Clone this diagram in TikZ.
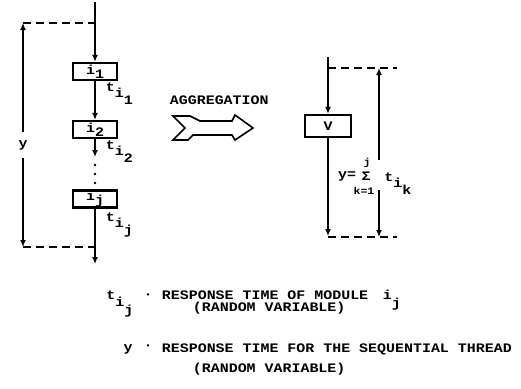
\documentclass[tikz,border=0pt]{standalone}
\usepackage{fontspec}
\usetikzlibrary{arrows.meta, positioning}
\newfontfamily\typew[FakeStretch=1.15]{Liberation Mono}
% t with stepped subscripts i and #1
\newcommand{\tsub}[1]{t\raisebox{-6pt}{i\raisebox{-7pt}{#1}}}
% i with a lowered index
\newcommand{\isub}[2][4pt]{i\raisebox{-#1}{#2}}

\begin{document}
\begin{tikzpicture}[x=1pt, y=-1pt, line width=1.8pt,
  font=\typew\bfseries\fontsize{13}{15}\selectfont,
  flow/.style={-{Latex[length=7pt,width=6pt]}},
  dashln/.style={dash pattern=on 8pt off 5pt, line width=2.2pt},
  modbox/.style={draw, line width=2.3pt, minimum width=44pt, minimum height=17pt, inner sep=0pt},
  lbl/.style={anchor=base west, inner sep=0pt}]
  \useasboundingbox (0,0) rectangle (521,388);

  % ---------- sequential thread of modules ----------
  \coordinate (in) at (95,2);
  \node[modbox] (m1) at (95,71.5) {\isub{1}};
  \node[modbox] (m2) at (95,129.5) {\isub{2}};
  \node[modbox] (mj) at (95,199) {\isub{j}};
  \coordinate (c2) at (95,157);
  \coordinate (out) at (95,264);
  \draw[flow] (in) -- (m1);
  \draw[flow] (m1) -- (m2);
  \draw[flow] (m2) -- (c2);
  \draw[flow] (mj) -- (out);
  \foreach \y in {165,174,183}{
    \fill (95,\y) circle (1.3pt);
  }
  \node[lbl] (t1) at (105,91) {\tsub{1}};
  \node[lbl] (t2) at (105,149) {\tsub{2}};
  \node[lbl] (tj) at (105,221) {\tsub{j}};

  % ---------- total time y (left) ----------
  \coordinate (yt) at (23,23);
  \coordinate (yb) at (23,247);
  \coordinate (jt) at (95,23);
  \coordinate (jb) at (95,247);
  \draw[dashln] (yt) -- (jt);
  \draw[dashln] (yb) -- (jb);
  \node[minimum height=24pt, inner sep=0pt] (ylab) at (23,145) {y};
  \draw[flow] (ylab) -- (yt);
  \draw[flow] (ylab) -- (yb);

  % ---------- aggregation arrow ----------
  \node[lbl] (agg) at (169,104) {AGGREGATION};
  \draw[line width=1.6pt, line join=miter]
    (173,116) -- (190,116) -- (200,121) -- (232,121) -- (235,115) -- (253,128)
    -- (235,140) -- (232,135) -- (193,135) -- (188,140) -- (173,140) -- (185,128) -- cycle;

  % ---------- aggregated module V (right) ----------
  \coordinate (rin) at (328,57);
  \node[modbox, minimum width=46pt, minimum height=22pt] (v) at (328,126) {V};
  \coordinate (rout) at (328,236);
  \draw[flow] (rin) -- (v);
  \draw[flow] (v) -- (rout);
  \coordinate (rjt) at (328,68);
  \coordinate (rjb) at (328,237);
  \coordinate (re1) at (397,68);
  \coordinate (re2) at (397,237);
  \draw[dashln] (rjt) -- (re1);
  \draw[dashln] (rjb) -- (re2);
  \coordinate (st) at (379,68);
  \coordinate (sb) at (379,237);
  \coordinate (g1) at (379,160);
  \coordinate (g2) at (379,190);
  \draw[flow] (g1) -- (st);
  \draw[flow] (g2) -- (sb);
  % sum formula
  \node (yeq) at (347,176) {y=};
  \node (sig) at (366,176) {Σ};
  \node[font=\typew\bfseries\fontsize{10}{12}\selectfont] (upl) at (367,163) {j};
  \node[font=\typew\bfseries\fontsize{10}{12}\selectfont] (lowl) at (364,191) {k=1};
  \node[lbl] (tk) at (383.5,181) {\tsub{k}};

  % ---------- legend ----------
  \node[lbl] (lt) at (105.5,299) {t\raisebox{-7pt}{i\raisebox{-8pt}{j}}};
  \node (ld1) at (148,296) {·};
  \node[lbl] (lr1) at (161,299) {RESPONSE TIME OF MODULE};
  \node[lbl] (lij) at (382,299) {\isub[8pt]{j}};
  \node[lbl] (lr2) at (192,311) {(RANDOM VARIABLE)};
  \node (ly) at (128,349) {y};
  \node (ld2) at (148,347) {·};
  \node[lbl] (lr3) at (161,352) {RESPONSE TIME FOR THE SEQUENTIAL THREAD};
  \node[lbl] (lr4) at (192,372) {(RANDOM VARIABLE)};

\end{tikzpicture}
\end{document}
